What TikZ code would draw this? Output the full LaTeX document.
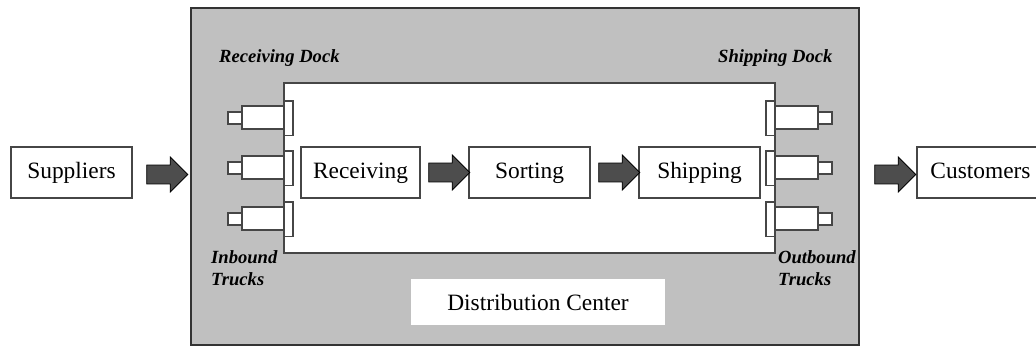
\documentclass[tikz,border=0pt]{standalone}
\usepackage{fontspec}
\setmainfont{Liberation Serif}
\usetikzlibrary{shapes.arrows}
\definecolor{dcgray}{RGB}{192,192,192}
\definecolor{arrowgray}{RGB}{77,77,77}
\definecolor{linegray}{RGB}{70,70,70}
\tikzset{
  areabox/.style={draw=linegray,line width=1.2pt,inner sep=0pt,outer sep=0pt,anchor=north west},
  stepbox/.style={draw=linegray,line width=1.2pt,fill=white,inner sep=0pt,outer sep=0pt,minimum height=51pt,
    text height=16pt,text depth=3pt,font=\fontsize{23.4}{26}\selectfont},
  bigarrow/.style={single arrow,draw=black,fill=arrowgray,line width=0.8pt,inner xsep=0pt,inner ysep=9pt,outer sep=0pt,
    minimum height=41pt,minimum width=35pt,single arrow head extend=8pt,single arrow head indent=0pt,
    text height=0pt,text depth=0pt},
  docklabel/.style={font=\fontsize{18.6}{22}\selectfont\bfseries\itshape,inner sep=0pt,anchor=west,align=left},
  truckpart/.style={draw=linegray,line width=1.1pt,fill=white}
}
\newcommand{\drawtruck}[2]{
  % #1 = side (1 left, -1 right), #2 = top of the dock
  \ifnum#1=1
    \draw[truckpart] (228,#2+11) rectangle (242,#2+23);
    \draw[truckpart] (242,#2+5) rectangle (284,#2+28);
    \draw[truckpart] (284,#2) rectangle (293,#2+34.5);
  \else
    \draw[truckpart] (818,#2+11) rectangle (832,#2+23);
    \draw[truckpart] (775,#2+5) rectangle (818,#2+28);
    \draw[truckpart] (766,#2) rectangle (775,#2+34.5);
  \fi
}
\newcommand{\flowarrow}[3][0pt]{\path (#2.east) -- (#3.west) node[midway,bigarrow,xshift=#1] (#2-#3) {};}
\begin{document}
\begin{tikzpicture}[x=1pt,y=-1pt]
\useasboundingbox (0,0) rectangle (1036,347);
\node[areabox,fill=dcgray,line width=1.6pt,draw=black!80,minimum width=668pt,minimum height=337pt] (center) at (191,8) {};
\node[areabox,fill=white,minimum width=491pt,minimum height=170pt] (floor) at (284,83) {};
\node[fill=white,inner sep=0pt,minimum width=254pt,minimum height=46pt,font=\fontsize{23.4}{26}\selectfont] (dcname) at (538,302) {Distribution Center};
\foreach \y in {101,151,202}{
  \drawtruck{1}{\y}
  \drawtruck{-1}{\y}
}
\node[stepbox,minimum width=121pt] (suppliers) at (71.5,172.5) {Suppliers};
\node[stepbox,minimum width=119pt] (receiving) at (360.5,172.5) {Receiving};
\node[stepbox,minimum width=121pt] (sorting) at (529.5,172.5) {Sorting};
\node[stepbox,minimum width=121pt] (shipping) at (699.5,172.5) {Shipping};
\node[stepbox,minimum width=127pt] (customers) at (980.5,172.5) {Customers};
\flowarrow[1pt]{suppliers}{center}
\flowarrow{receiving}{sorting}
\flowarrow{sorting}{shipping}
\flowarrow[2.5pt]{center}{customers}
\node[docklabel] (recvdock) at (219,58) {Receiving Dock};
\node[docklabel] (shipdock) at (718,58) {Shipping Dock};
\node[docklabel] (inbound) at (211,268) {Inbound\\Trucks};
\node[docklabel] (outbound) at (778,268) {Outbound\\Trucks};
\end{tikzpicture}
\end{document}
